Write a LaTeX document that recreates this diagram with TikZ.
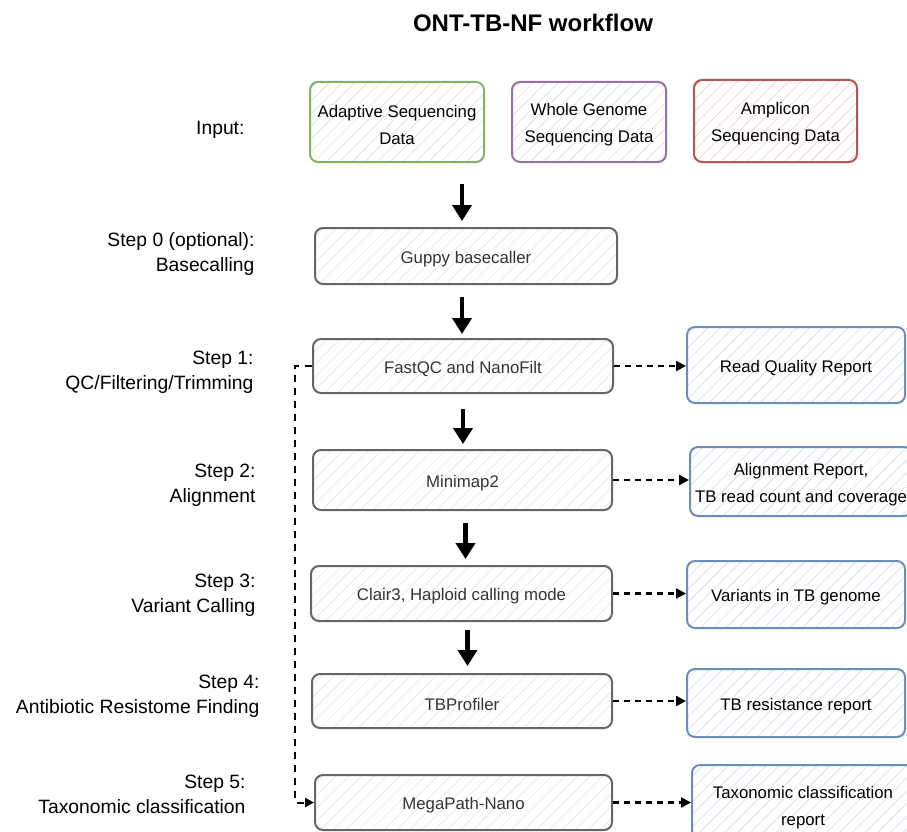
\documentclass[tikz,border=0pt]{standalone}
\usepackage{fontspec}
\setmainfont{Liberation Sans}
\usetikzlibrary{arrows.meta,patterns.meta}
\definecolor{grn}{HTML}{82B366}
\definecolor{grnh}{HTML}{C9E2C4}
\definecolor{prp}{HTML}{9673A6}
\definecolor{prph}{HTML}{DCD0E6}
\definecolor{rd}{HTML}{B85450}
\definecolor{rdh}{HTML}{F2C4C2}
\definecolor{blu}{HTML}{6C8EBF}
\definecolor{bluh}{HTML}{C6D7EE}
\definecolor{gry}{HTML}{666666}
\definecolor{gryh}{HTML}{E0E0E0}
\definecolor{txtg}{HTML}{333333}
\tikzset{
  hatchbox/.style={rounded corners=8pt, line width=2pt, inner sep=1pt,
    pattern={Lines[angle=45,distance=9pt,line width=0.5pt]}},
  boxtext/.style={align=center, font=\fontsize{16.8}{27}\selectfont, yshift=-3pt, inner sep=0pt},
  inbox/.style={hatchbox, label={[boxtext, text=black]center:#1}},
  stepbox/.style={hatchbox, draw=gry, pattern color=gryh, label={[boxtext, text=txtg]center:#1}},
  repbox/.style={hatchbox, draw=blu, pattern color=bluh, label={[boxtext, text=black]center:#1}},
  lbl/.style={anchor=east, align=right, font=\fontsize{19.3}{25}\selectfont},
  bigarrow/.style={line width=4.5pt, -{Triangle[width=19pt,length=16pt]}},
  dasharrow/.style={line width=2.3pt, dash pattern=on 6pt off 5pt, -{Triangle[width=10pt,length=10pt]}},
}
\begin{document}
\begin{tikzpicture}[x=1pt,y=-1pt]
\useasboundingbox (0,0) rectangle (907,832);
\node[font=\bfseries\fontsize{24}{28}\selectfont] (title) at (533,23) {ONT-TB-NF workflow};

% inputs
\node[inbox={Adaptive Sequencing\\Data}, draw=grn, pattern color=grnh, minimum width=174pt, minimum height=80pt] (in1) at (397,122) {};
\node[inbox={Whole Genome\\Sequencing Data}, draw=prp, pattern color=prph, minimum width=154pt, minimum height=80pt] (in2) at (589,122) {};
\node[inbox={Amplicon\\Sequencing Data}, draw=rd, pattern color=rdh, minimum width=163pt, minimum height=82pt] (in3) at (775.5,121) {};
\node[lbl] (l0) at (248,130) {Input:};

% steps
\node[stepbox={Guppy basecaller}, minimum width=302pt, minimum height=56pt] (s0) at (466,256) {};
\node[stepbox={FastQC and NanoFilt}, minimum width=300pt, minimum height=54pt] (s1) at (463,366) {};
\node[stepbox={Minimap2}, minimum width=299pt, minimum height=60pt] (s2) at (462.5,480) {};
\node[stepbox={Clair3, Haploid calling mode}, minimum width=301pt, minimum height=55pt] (s3) at (461.5,593.5) {};
\node[stepbox={TBProfiler}, minimum width=300pt, minimum height=54pt] (s4) at (462,701) {};
\node[stepbox={MegaPath-Nano}, minimum width=297pt, minimum height=55pt] (s5) at (463.5,802.5) {};

% reports
\node[repbox={Read Quality Report}, minimum width=218pt, minimum height=76pt] (r1) at (796,365) {};
\node[repbox={Alignment Report,\\TB read count and coverage}, minimum width=222pt, minimum height=69pt] (r2) at (801,481.5) {};
\node[repbox={Variants in TB genome}, minimum width=218pt, minimum height=67pt] (r3) at (796,594.5) {};
\node[repbox={TB resistance report}, minimum width=218pt, minimum height=68pt] (r4) at (796,703) {};
\node[repbox={Taxonomic classification\\report}, minimum width=222pt, minimum height=80pt] (r5) at (803,805) {};

% left labels
\node[lbl] (l1) at (258,254) {Step 0 (optional):\\Basecalling};
\node[lbl] (l2) at (257,372) {Step 1:\\QC/Filtering/Trimming};
\node[lbl] (l3) at (259,485) {Step 2:\\Alignment};
\node[lbl] (l4) at (259,595) {Step 3:\\Variant Calling};
\node[lbl] (l5) at (263,696) {Step 4:\\Antibiotic Resistome Finding};
\node[lbl] (l6) at (249,794) {Step 5:\\Taxonomic classification};

% big arrows
\coordinate (a0s) at (462,184);
\draw[bigarrow] (a0s) -- (462,221);
\draw[bigarrow] ([xshift=-4pt]s0.south) ++(0,12) -- ([xshift=-4pt]s0.south |- 0,334);
\draw[bigarrow] (s1.south) ++(0,15) -- (463,444);
\draw[bigarrow] ([xshift=3pt]s2.south) ++(0,12) -- (465.5,559);
\draw[bigarrow] ([xshift=6pt]s3.south) ++(0,8) -- (467.5,666);

% dashed report arrows
\draw[dasharrow] (s1.east) -- (s1.east -| r1.west);
\draw[dasharrow] (s2.east) -- (s2.east -| r2.west);
\draw[dasharrow] (s3.east) -- (s3.east -| r3.west);
\draw[dasharrow] (s4.east) -- (s4.east -| r4.west);
\draw[dasharrow] (s5.east) -- (s5.east -| r5.west);

% dashed bypass
\draw[line width=2pt, dash pattern=on 7pt off 6pt, -{Triangle[width=9pt,length=9pt]}]
  (s1.west) -- ++(-17,0) |- (s5.west);
\end{tikzpicture}
\end{document}
